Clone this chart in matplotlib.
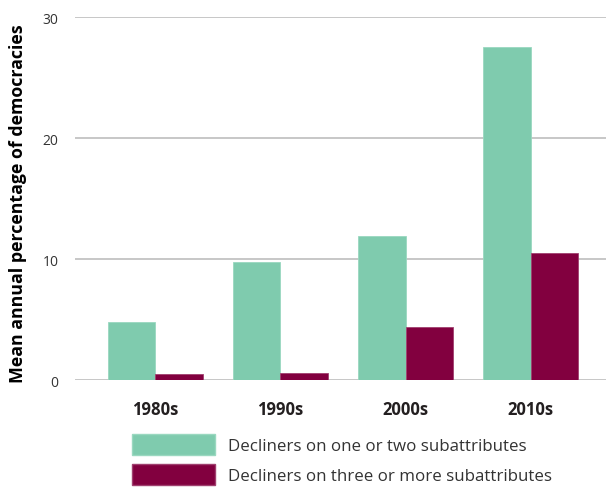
import matplotlib
matplotlib.use("Agg")
import matplotlib.pyplot as plt
from matplotlib.patches import Patch
import numpy as np

plt.rcParams["font.family"] = ["Open Sans", "DejaVu Sans"]

decades = ["1980s", "1990s", "2000s", "2010s"]
one_or_two = [4.8, 9.8, 11.9, 27.5]
three_or_more = [0.5, 0.6, 4.4, 10.5]
labels = ["Decliners on one or two subattributes",
          "Decliners on three or more subattributes"]

green = "#7fcbae"
purple = "#82003f"

fig = plt.figure(figsize=(6.06, 4.89), dpi=100)
ax = fig.add_axes([0.124, 0.22, 0.876, 0.743])

x = np.arange(len(decades))
w = 0.38
ax.bar(x - w / 2, one_or_two, w, color=green, edgecolor="#9ad8c0", linewidth=0.6, zorder=3)
ax.bar(x + w / 2, three_or_more, w, color=purple, edgecolor="#a0406f", linewidth=0.6, zorder=3)

ax.set_ylim(0, 30)
ax.set_xlim(-0.64, 3.6)
ax.set_yticks([0, 10, 20, 30])
ax.yaxis.grid(True, color="#bdbdbd", linewidth=1.2, zorder=0)
ax.set_axisbelow(True)
for s in ax.spines.values():
    s.set_visible(False)
ax.tick_params(axis="y", length=0, labelsize=10, labelcolor="#333333", pad=12)
ax.tick_params(axis="x", length=0, pad=14)
ax.set_xticks(x)
ax.set_xticklabels(decades, fontsize=12, fontweight="bold", color="#231f20")
ax.set_ylabel("Mean annual percentage of democracies", fontsize=12.8,
              fontweight="bold", color="black", labelpad=6)
ax.yaxis.set_label_coords(-0.09, 0.49)

handles = [Patch(facecolor=green, edgecolor="#9ad8c0"),
           Patch(facecolor=purple, edgecolor="#a0406f")]
fig.legend(handles, labels, loc="upper left", bbox_to_anchor=(0.218, 0.111),
           frameon=False, fontsize=12.2, handlelength=4.9, handleheight=1.55,
           handletextpad=0.77, labelspacing=0.55, borderaxespad=0, borderpad=0,
           labelcolor="#333333")

fig.savefig("out.png", dpi=100)
